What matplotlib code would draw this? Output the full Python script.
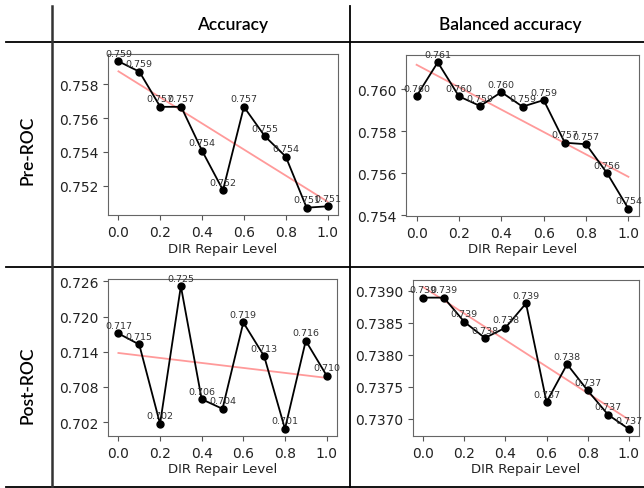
import numpy as np
import matplotlib
matplotlib.use("Agg")
import matplotlib.pyplot as plt
from matplotlib.lines import Line2D

levels = [0.0, 0.1, 0.2, 0.3, 0.4, 0.5, 0.6, 0.7, 0.8, 0.9, 1.0]

pre_acc = [0.75934, 0.75873, 0.75666, 0.75666, 0.75407, 0.75175, 0.75666, 0.75493, 0.75373, 0.75072, 0.75080]
pre_bal = [0.75968, 0.76129, 0.75967, 0.75921, 0.75987, 0.75918, 0.75949, 0.75746, 0.75739, 0.75600, 0.75432]
post_acc = [0.71713, 0.71525, 0.70172, 0.72520, 0.70592, 0.70428, 0.71900, 0.71326, 0.70086, 0.71588, 0.70996]
post_bal = [0.73889, 0.73889, 0.73851, 0.73826, 0.73842, 0.73880, 0.73726, 0.73785, 0.73744, 0.73706, 0.73684]

pre_acc_ticks = [0.752, 0.754, 0.756, 0.758]
pre_bal_ticks = [0.754, 0.756, 0.758, 0.760]
post_acc_ticks = [0.702, 0.708, 0.714, 0.720, 0.726]
post_bal_ticks = [0.7370, 0.7375, 0.7380, 0.7385, 0.7390]
x_ticks = [0.0, 0.2, 0.4, 0.6, 0.8, 1.0]

col_titles = ["Accuracy", "Balanced accuracy"]
row_titles = ["Pre-ROC", "Post-ROC"]
xlabel = "DIR Repair Level"

W, H = 644, 489
fig = plt.figure(figsize=(W / 100, H / 100), dpi=100)


def rect(l, r, t, b):
    return [l / W, 1 - b / H, (r - l) / W, (b - t) / H]


panels = [
    (rect(108, 338, 55, 216), pre_acc, pre_acc_ticks, "%.3f"),
    (rect(406, 639, 56, 217), pre_bal, pre_bal_ticks, "%.3f"),
    (rect(108, 337, 280, 437), post_acc, post_acc_ticks, "%.3f"),
    (rect(413, 639, 281, 437), post_bal, post_bal_ticks, "%.4f"),
]

x = np.array(levels)
for pos, vals, yt, fmt in panels:
    ax = fig.add_axes(pos)
    y = np.array(vals)
    ax.plot(x, y, color="black", lw=1.3, marker="o", ms=5, zorder=3)
    k, b = np.polyfit(x, y, 1)
    ax.plot(x, k * x + b, color="#ff9a9a", lw=1.3, zorder=2)
    for xi, yi in zip(x, y):
        ax.annotate("%.3f" % yi, (xi, yi), xytext=(0, 2.5), textcoords="offset points",
                    ha="center", va="bottom", fontsize=6.8, color="#333333", zorder=4)
    ax.set_yticks(yt)
    ax.set_yticklabels([fmt % t for t in yt])
    ax.set_xticks(x_ticks)
    ax.set_xticklabels(["%.1f" % t for t in x_ticks])
    ax.tick_params(labelsize=10, color="#555555", labelcolor="#222222")
    ax.set_xlabel(xlabel, fontsize=9.5, color="#222222", labelpad=2)
    for s in ax.spines.values():
        s.set_color("#666666")

# table grid lines
def hline(yp, lw=1.3, c="black"):
    fig.add_artist(Line2D([6 / W, 1.0], [1 - yp / H, 1 - yp / H], color=c, lw=lw))

def vline(xp, lw=1.3, c="black"):
    fig.add_artist(Line2D([xp / W, xp / W], [1 - 7 / H, 1 - 488 / H], color=c, lw=lw))

hline(43)
hline(268)
hline(488)
vline(52, lw=1.8, c="#333333")
vline(350, lw=1.3)

fig.text(233 / W, 1 - 25 / H, col_titles[0], ha="center", va="center", fontsize=12.5,
         family="Lato", weight="semibold")
fig.text(510 / W, 1 - 25 / H, col_titles[1], ha="center", va="center", fontsize=12.5,
         family="Lato", weight="semibold")
fig.text(27 / W, 1 - 150 / H, row_titles[0], ha="center", va="center", rotation=90,
         fontsize=12.5, family="Lato", weight="semibold")
fig.text(27 / W, 1 - 385 / H, row_titles[1], ha="center", va="center", rotation=90,
         fontsize=12.5, family="Lato", weight="semibold")

fig.savefig("out.png", dpi=100)
